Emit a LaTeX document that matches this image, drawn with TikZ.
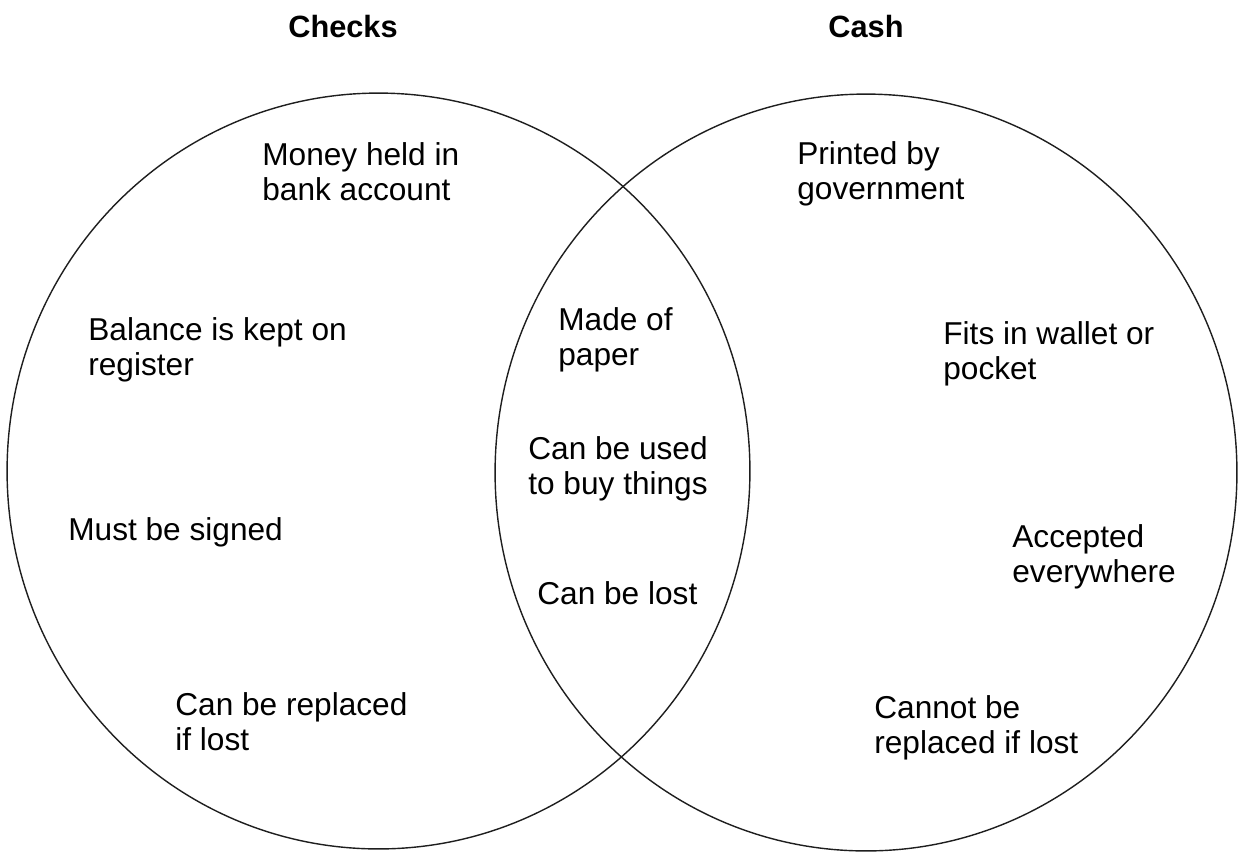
\documentclass[tikz,border=0pt]{standalone}
\usepackage{fontspec}
\setmainfont{Liberation Sans}
\usepackage{xcolor}
\usetikzlibrary{positioning}
\definecolor{ink}{RGB}{30, 30, 30}

\begin{document}
\begin{tikzpicture}[x=0.02cm, y=-0.02cm, every node/.style={align=left, inner sep=0pt, font=\fontsize{18}{20}\selectfont}]
\useasboundingbox (0,0) rectangle (1239,853);
% Circles
\draw[ink, line width=0.8pt] (378.5,471) ellipse [x radius=7.43cm, y radius=7.56cm];
\draw[ink, line width=0.8pt] (866,472.5) ellipse [x radius=7.42cm, y radius=7.57cm];

% Titles
\node[font=\fontsize{17.5}{20}\selectfont\bfseries] (checks) at (343,27) {Checks};
\node[font=\fontsize{17.5}{20}\selectfont\bfseries] (cash) at (866,27) {Cash};

% Checks only
\node[anchor=west] (money) at (262,172) {Money held in\\bank account};
\node[anchor=west] (balance) at (88,350) {Balance is kept on\\register};
\node[anchor=west] (signed) at (68,532) {Must be signed};
\node[anchor=west] (replaced) at (175,722) {Can be replaced\\if lost};

% Both
\node[anchor=west] (paper) at (558,340) {Made of\\paper};
\node[anchor=west] (buy) at (528,469) {Can be used\\to buy things};
\node[anchor=west] (lost) at (537,593) {Can be lost};

% Cash only
\node[anchor=west] (printed) at (797,174) {Printed by\\government};
\node[anchor=west] (wallet) at (943,354) {Fits in wallet or\\pocket};
\node[anchor=west] (accepted) at (1012,557) {Accepted\\everywhere};
\node[anchor=west] (cannot) at (874,728) {Cannot be\\replaced if lost};
\end{tikzpicture}
\end{document}
